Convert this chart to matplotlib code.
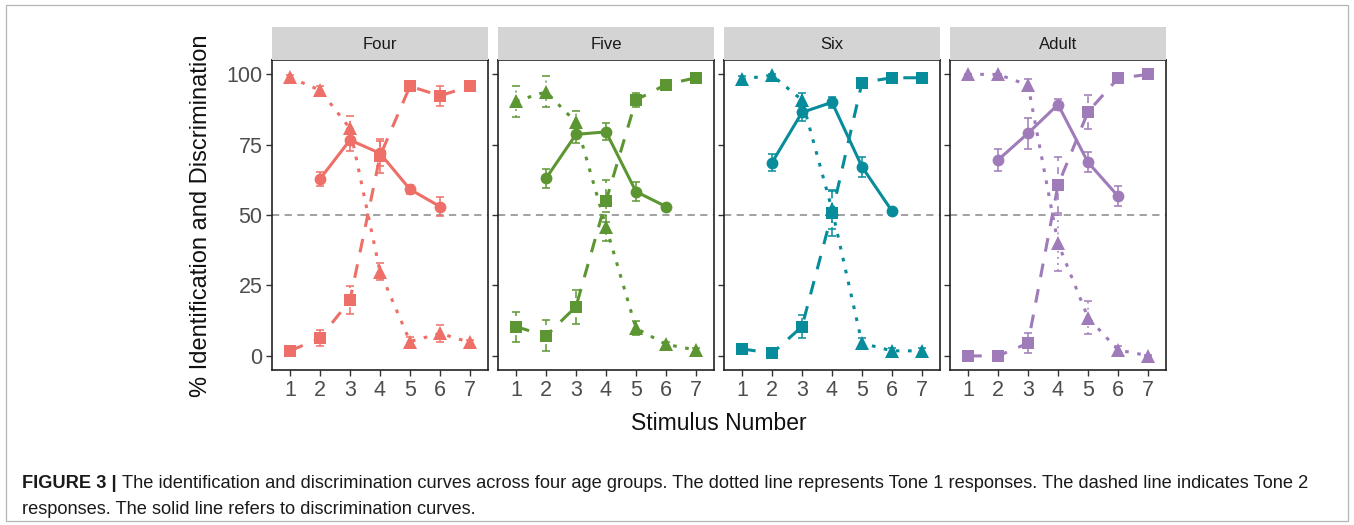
import matplotlib

matplotlib.use("Agg")
import matplotlib.pyplot as plt
from matplotlib.patches import Rectangle

# stimulus positions; discrimination pairs are plotted at 2..6
stimulus = [1, 2, 3, 4, 5, 6, 7]
disc_stimulus = [2, 3, 4, 5, 6]

groups = ["Four", "Five", "Six", "Adult"]
colors = ["#EE6F67", "#5C9632", "#078C9B", "#9F7BB9"]

four_tone1 = [98.8, 94.3, 80.7, 29.9, 5.1, 8.0, 4.8]
four_tone1_se = [0.8, 1.5, 4.5, 3.0, 1.5, 3.0, 1.0]
four_tone2 = [1.8, 6.3, 19.7, 70.9, 95.7, 92.3, 95.7]
four_tone2_se = [0.8, 2.8, 5.0, 6.0, 1.5, 3.5, 1.5]
four_disc = [62.8, 76.6, 71.9, 59.1, 53.0]
four_disc_se = [2.5, 4.0, 4.5, 1.5, 3.5]

five_tone1 = [90.4, 93.7, 82.9, 45.9, 9.8, 4.1, 2.1]
five_tone1_se = [5.5, 5.5, 4.0, 5.0, 2.5, 1.0, 0.8]
five_tone2 = [10.4, 7.1, 17.5, 55.0, 90.8, 96.3, 98.7]
five_tone2_se = [5.3, 5.5, 6.0, 7.5, 2.5, 1.0, 0.5]
five_disc = [63.0, 78.6, 79.5, 58.3, 53.0]
five_disc_se = [3.5, 3.0, 3.0, 3.5, 1.0]

six_tone1 = [98.2, 99.6, 90.8, 52.0, 4.5, 1.8, 1.8]
six_tone1_se = [1.0, 0.5, 2.5, 7.0, 2.0, 1.0, 1.0]
six_tone2 = [2.5, 0.9, 10.4, 50.6, 97.0, 98.7, 98.7]
six_tone2_se = [1.0, 0.5, 4.0, 8.0, 1.5, 0.5, 0.5]
six_disc = [68.6, 86.4, 90.0, 67.1, 51.4]
six_disc_se = [3.0, 3.0, 2.0, 3.5, 0.8]

adult_tone1 = [99.9, 99.9, 96.1, 40.0, 13.6, 2.1, 0.1]
adult_tone1_se = [0.1, 0.1, 2.0, 10.0, 6.0, 1.5, 0.1]
adult_tone2 = [0.0, 0.0, 4.5, 60.6, 86.6, 98.5, 99.9]
adult_tone2_se = [0.1, 0.1, 3.5, 10.0, 6.0, 1.5, 0.1]
adult_disc = [69.5, 79.0, 89.2, 68.7, 56.7]
adult_disc_se = [4.0, 5.5, 2.0, 3.5, 3.5]

tone1 = [four_tone1, five_tone1, six_tone1, adult_tone1]
tone1_se = [four_tone1_se, five_tone1_se, six_tone1_se, adult_tone1_se]
tone2 = [four_tone2, five_tone2, six_tone2, adult_tone2]
tone2_se = [four_tone2_se, five_tone2_se, six_tone2_se, adult_tone2_se]
disc = [four_disc, five_disc, six_disc, adult_disc]
disc_se = [four_disc_se, five_disc_se, six_disc_se, adult_disc_se]

y_ticks = [0, 25, 50, 75, 100]

W, H = 1354, 525
plt.rcParams["font.family"] = ["Liberation Sans", "DejaVu Sans"]
fig = plt.figure(figsize=(W / 100, H / 100), dpi=100)

# thin frame around the whole figure
fig.patches.append(Rectangle((6 / W, 4 / H), 1342 / W, 516 / H, transform=fig.transFigure,
                             fill=False, edgecolor="#B5B5B5", linewidth=0.9))

panel_left = [272, 498, 724, 950]
panel_w = 216
panel_top, panel_bottom = 60, 370
strip_top = 27


def draw_series(ax, x, y, se, color, marker, dashes, ms):
    bars = ax.errorbar(x, y, yerr=se, fmt="none", ecolor=color, elinewidth=1.1,
                       capsize=2.6, capthick=1.1, zorder=2)
    if dashes is not None:
        bars[2][0].set_linestyle((0, dashes))
    line, = ax.plot(x, y, color=color, lw=2.2, marker=marker, markersize=ms,
                    markeredgewidth=0, zorder=3, solid_capstyle="butt")
    if dashes is not None:
        line.set_dashes(dashes)
        line.set_dash_capstyle("butt")


for i, name in enumerate(groups):
    left = panel_left[i] / W
    ax = fig.add_axes([left, (H - panel_bottom) / H, panel_w / W, (panel_bottom - panel_top) / H])
    color = colors[i]
    ax.axhline(50, color="#9A9A9A", lw=1.3, dashes=(4, 3), zorder=1)
    draw_series(ax, stimulus, tone1[i], tone1_se[i], color, "^", (1.2, 2.8), 10)
    draw_series(ax, stimulus, tone2[i], tone2_se[i], color, "s", (4.5, 4), 8)
    draw_series(ax, disc_stimulus, disc[i], disc_se[i], color, "o", None, 8.5)

    ax.set_xlim(0.4, 7.6)
    ax.set_ylim(-5, 105)
    ax.set_xticks(stimulus)
    ax.set_yticks(y_ticks)
    ax.tick_params(length=4, width=1, color="#333333", labelcolor="#4D4D4D",
                   labelsize=15.5, pad=3)
    if i > 0:
        ax.set_yticklabels([])
    for spine in ax.spines.values():
        spine.set_color("#222222")
        spine.set_linewidth(1.2)

    strip = fig.add_axes([left, (H - panel_top) / H, panel_w / W, (panel_top - strip_top) / H])
    strip.set_facecolor("#D4D4D4")
    strip.set_xticks([])
    strip.set_yticks([])
    for spine in strip.spines.values():
        spine.set_visible(False)
    strip.text(0.5, 0.48, name, ha="center", va="center", fontsize=12, color="#1A1A1A",
               transform=strip.transAxes)

fig.text(201 / W, (H - 216) / H, "% Identification and Discrimination", rotation=90,
         ha="center", va="center", fontsize=17, color="#111111")
fig.text(719 / W, (H - 424) / H, "Stimulus Number", ha="center", va="center",
         fontsize=16.5, color="#111111")

caption_font = ["Liberation Sans", "DejaVu Sans"]
head = fig.text(22 / W, (H - 483) / H, "FIGURE 3 | ", ha="left", va="center", fontsize=13.15,
                fontweight="bold", family=caption_font, color="#1A1A1A")
fig.canvas.draw()
bbox = head.get_window_extent()
fig.text(bbox.x1 / W, (H - 483) / H,
         "The identification and discrimination curves across four age groups. The dotted line "
         "represents Tone 1 responses. The dashed line indicates Tone 2",
         ha="left", va="center", fontsize=13.15, family=caption_font, color="#1A1A1A")
fig.text(22 / W, (H - 509) / H,
         "responses. The solid line refers to discrimination curves.",
         ha="left", va="center", fontsize=13.15, family=caption_font, color="#1A1A1A")

fig.savefig("out.png", dpi=100)
plt.close(fig)
